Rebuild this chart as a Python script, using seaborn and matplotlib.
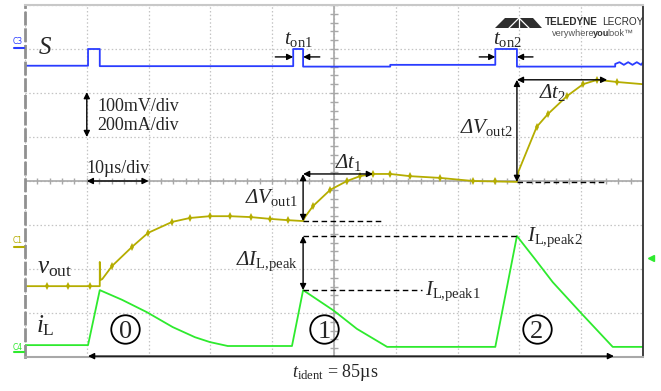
import matplotlib
matplotlib.use("Agg")
import matplotlib.pyplot as plt
import seaborn as sns
import numpy as np
from matplotlib.lines import Line2D
from matplotlib.patches import Polygon

# time axis in microseconds (10 us/div), vertical axis in divisions
s_time = [0, 10.2, 10.2, 12.1, 12.1, 43.4, 43.4, 45.0, 45.0, 59.1, 59.1, 76.1, 76.1, 79.6, 79.6,
          95.5, 95.5, 96.2, 96.9, 97.6, 98.3, 99.0, 99.7, 100]
s_level = [2.62, 2.62, 3.0, 3.0, 2.61, 2.61, 3.0, 3.0, 2.60, 2.60, 2.64, 2.64, 3.0, 3.0, 2.60,
           2.60, 2.66, 2.70, 2.64, 2.70, 2.64, 2.70, 2.64, 2.70]

vout_time = [0, 3.5, 7.0, 10.5, 12.1, 12.1, 12.2, 12.5, 14.1, 17.3, 19.9, 23.8, 26.7, 29.9, 33.2,
             36.5, 39.6, 42.5, 45.0, 45.3, 46.6, 49.4, 52.1, 54.2, 56.3, 59.1, 62.3, 67.2, 72.5,
             76.0, 79.6, 79.8, 82.8, 84.6, 87.7, 90.3, 92.6, 95.8, 100]
vout_level = [-2.39, -2.39, -2.39, -2.39, -2.39, -1.84, -2.25, -2.23, -1.93, -1.50, -1.18, -0.93,
              -0.84, -0.80, -0.80, -0.82, -0.86, -0.89, -0.91, -0.82, -0.57, -0.20, 0.0, 0.11,
              0.16, 0.16, 0.11, 0.07, 0.0, -0.01, -0.02, 0.20, 1.23, 1.52, 1.93, 2.20, 2.30, 2.25,
              2.20]
vout_marks = [1, 2, 3, 8, 9, 10, 11, 12, 13, 14, 15, 16, 17, 20, 21, 22, 23, 24, 25, 26, 27, 28, 29,
              32, 33, 34, 35, 36, 37]

il_time = [0, 10.2, 12.1, 15.7, 19.7, 23.9, 27.5, 29.9, 32.8, 43.2, 45.0, 50.0, 53.7, 58.6, 76.1,
           79.6, 82.5, 85.4, 90.1, 95.1, 100]
il_level = [-3.73, -3.73, -2.48, -2.70, -2.98, -3.32, -3.55, -3.66, -3.75, -3.75, -2.48, -2.95,
            -3.36, -3.77, -3.77, -1.25, -1.77, -2.30, -3.02, -3.77, -3.77]

phase_time = [16.2, 48.4, 82.8]
phase_label = ["0", "1", "2"]

blue = "#2a3cff"
olive = "#b5ad00"
green = "#2eea2e"

sns.set_style("white")
plt.rcParams["font.family"] = ["Liberation Serif", "DejaVu Serif"]
plt.rcParams["mathtext.fontset"] = "custom"
plt.rcParams["mathtext.rm"] = "Liberation Serif:italic"
plt.rcParams["mathtext.it"] = "Liberation Serif:italic"
plt.rcParams["mathtext.sf"] = "Liberation Serif"
plt.rcParams["mathtext.bf"] = "Liberation Serif:bold"

fig = plt.figure(figsize=(6.61, 3.91), dpi=100)
ax = fig.add_axes([25 / 661, 34 / 391, 618 / 661, 352 / 391])
ax.set_xlim(0, 100)
ax.set_ylim(-4, 4)

# graticule
ax.set_xticks(np.arange(0, 101, 10))
ax.set_yticks(np.arange(-4, 5, 1))
ax.tick_params(length=0, labelbottom=False, labelleft=False)
ax.grid(True, color="#c4c4c4", linestyle=(0, (1.2, 1.8)), linewidth=0.9)
ax.axhline(0, color="#a8a8a8", lw=1.2, zorder=1)
ax.axvline(50, color="#a8a8a8", lw=1.2, zorder=1)
ax.vlines(np.arange(0, 101, 2), -0.07, 0.07, color="#a8a8a8", lw=1, zorder=1)
ax.hlines(np.arange(-4, 4.01, 0.2), 49.3, 50.7, color="#a8a8a8", lw=1, zorder=1)
ax.spines["left"].set_linestyle((0, (4, 2)))
ax.spines["left"].set_color("#909090")
ax.spines["left"].set_linewidth(2)
ax.spines["top"].set_color("#c8c8c8")
ax.spines["top"].set_linewidth(1.5)
ax.spines["right"].set_color("#303030")
ax.spines["right"].set_linewidth(1.3)
ax.spines["bottom"].set_color("#a8a8a8")
ax.spines["bottom"].set_linewidth(1.5)

# traces
sns.lineplot(x=s_time, y=s_level, sort=False, estimator=None, color=blue, lw=1.3, ax=ax)
sns.lineplot(x=vout_time, y=vout_level, sort=False, estimator=None, color=olive, lw=1.3, ax=ax,
             marker="d", markersize=4, markevery=vout_marks, markeredgewidth=0)
sns.lineplot(x=il_time, y=il_level, sort=False, estimator=None, color=green, lw=1.3, ax=ax)
ax.set_xlabel("")
ax.set_ylabel("")

# reference levels
vmin1 = vout_level[18]
vtop1 = vout_level[24]
vmin2 = vout_level[30]
vtop2 = vout_level[36]
ipk1 = il_level[10]
ipk2 = il_level[15]
t1, t2 = il_time[10], il_time[15]

dash = dict(color="k", lw=1.0, linestyle=(0, (4, 2.5)))
ax.plot([t1, 57.9], [vmin1, vmin1], **dash)
ax.plot([t1, t2], [ipk2, ipk2], **dash)
ax.plot([t1, 64.2], [ipk1, ipk1], **dash)
ax.plot([t2, 94.2], [vmin2, vmin2], **dash)

both = dict(arrowstyle="<|-|>", color="k", lw=1.0, mutation_scale=9, shrinkA=0, shrinkB=0)
one = dict(arrowstyle="-|>", color="k", lw=1.0, mutation_scale=9, shrinkA=0, shrinkB=0)

ax.annotate("", xy=(10, 2.02), xytext=(10, 1.0), arrowprops=both)
ax.annotate("", xy=(10, 0.0), xytext=(20, 0.0), arrowprops=both)
ax.annotate("", xy=(t1, vtop1), xytext=(t1, vmin1), arrowprops=both)
ax.annotate("", xy=(t1, vtop1), xytext=(56.3, vtop1), arrowprops=both)
ax.annotate("", xy=(t2, vtop2), xytext=(t2, vmin2), arrowprops=both)
ax.annotate("", xy=(t2, vtop2), xytext=(94.2, vtop2), arrowprops=both)
ax.annotate("", xy=(t1, ipk2), xytext=(t1, ipk1), arrowprops=both)
ax.annotate("", xy=(10.2, -3.98), xytext=(95.3, -3.98), arrowprops=both,
            annotation_clip=False)
ax.annotate("", xy=(s_time[5], 2.82), xytext=(40.5, 2.82), arrowprops=one)
ax.annotate("", xy=(s_time[7], 2.82), xytext=(47.7, 2.82), arrowprops=one)
ax.annotate("", xy=(s_time[11], 2.82), xytext=(73.5, 2.82), arrowprops=one)
ax.annotate("", xy=(s_time[13], 2.82), xytext=(82.2, 2.82), arrowprops=one)

# labels
fs = 13
ax.text(11.7, 1.70, "100mV/div", fontsize=fs, va="center")
ax.text(11.7, 1.27, "200mA/div", fontsize=fs, va="center")
ax.text(15.0, 0.10, "10µs/div", fontsize=fs, ha="center", va="bottom")
ax.text(3.2, 3.02, r"$S$", fontsize=18, ha="center", va="center")
ax.text(2.0, -1.98, r"$v_{\mathsf{out}}$", fontsize=18, va="center")
ax.text(1.8, -3.30, r"$i_{\mathsf{L}}$", fontsize=18, va="center")
ax.text(44.2, 3.22, r"$t_{\mathsf{on1}}$", fontsize=15, ha="center", va="center")
ax.text(78.1, 3.22, r"$t_{\mathsf{on2}}$", fontsize=15, ha="center", va="center")
ax.text(44.2, -0.38, r"$\Delta V_{\mathsf{out1}}$", fontsize=15, ha="right", va="center")
ax.text(78.9, 1.22, r"$\Delta V_{\mathsf{out2}}$", fontsize=15, ha="right", va="center")
ax.text(52.3, 0.42, r"$\Delta t_{\mathsf{1}}$", fontsize=15, ha="center", va="center")
ax.text(85.4, 2.02, r"$\Delta t_{\mathsf{2}}$", fontsize=15, ha="center", va="center")
ax.text(44.2, -1.82, r"$\Delta I_{\mathsf{L{,}peak}}$", fontsize=15, ha="right", va="center")
ax.text(64.8, -2.50, r"$I_{\mathsf{L{,}peak1}}$", fontsize=15, va="center")
ax.text(81.3, -1.28, r"$I_{\mathsf{L{,}peak2}}$", fontsize=15, va="center")
ax.text(50.2, -4.36, r"$t_{\mathsf{ident}}$ = 85µs", fontsize=fs, ha="center", va="center",
        clip_on=False)
ax.plot(phase_time, [-3.36] * 3, lw=0, marker="o", markersize=20.5, fillstyle="none",
        markeredgecolor="k", markeredgewidth=1.3)
for tx, lab in zip(phase_time, phase_label):
    ax.text(tx, -3.36 - 0.21, lab, fontsize=19, ha="center", va="baseline")

# channel markers
for ytxt, yln, lab, col in [(42, 48, "C3", blue), (241, 247, "C1", olive), (347, 352, "C4", green)]:
    fig.text(13 / 661, 1 - ytxt / 391, lab, color=col, fontsize=5.5, family="DejaVu Sans",
             va="center")
    fig.add_artist(Line2D([14 / 661, 24 / 661], [1 - yln / 391] * 2, color=col, lw=1.5))
fig.add_artist(Line2D([651 / 661], [1 - 258 / 391], marker="<", color=green, markersize=5, lw=0))

# scope logo
px = lambda x, y: (x / 661, 1 - y / 391)
fig.add_artist(Polygon([px(495, 28), px(542, 28), px(533, 18), px(505, 18)], closed=True,
                       fc="#2e2e2e", ec="none", transform=fig.transFigure))
for xe in [509, 519, 529]:
    fig.add_artist(Line2D([519 / 661, xe / 661], [1 - 18 / 391, 1 - 28 / 391], color="white",
                          lw=0.9))
fig.text(545 / 661, 1 - 22 / 391, "TELEDYNE", family="Liberation Sans", weight="bold",
         fontsize=7.2, color="#2e2e2e", va="center")
fig.text(602 / 661, 1 - 22 / 391, "LECROY", family="Liberation Sans", fontsize=7.2,
         color="#2e2e2e", va="center")
a1 = fig.text(552 / 661, 1 - 34 / 391, "verywhere", family="Liberation Sans", fontsize=6.6,
              color="#555555", va="center")
a2 = ax.annotate("you", xy=(1, 0), xycoords=a1, xytext=(-1.2, 0), textcoords="offset points",
                 va="bottom", family="Liberation Sans", fontsize=6.6, weight="bold",
                 color="#333333")
ax.annotate("look\u2122", xy=(1, 0), xycoords=a2, xytext=(-1.2, 0), textcoords="offset points",
            va="bottom", family="Liberation Sans", fontsize=6.6, color="#555555")

fig.savefig("out.png", dpi=100)
